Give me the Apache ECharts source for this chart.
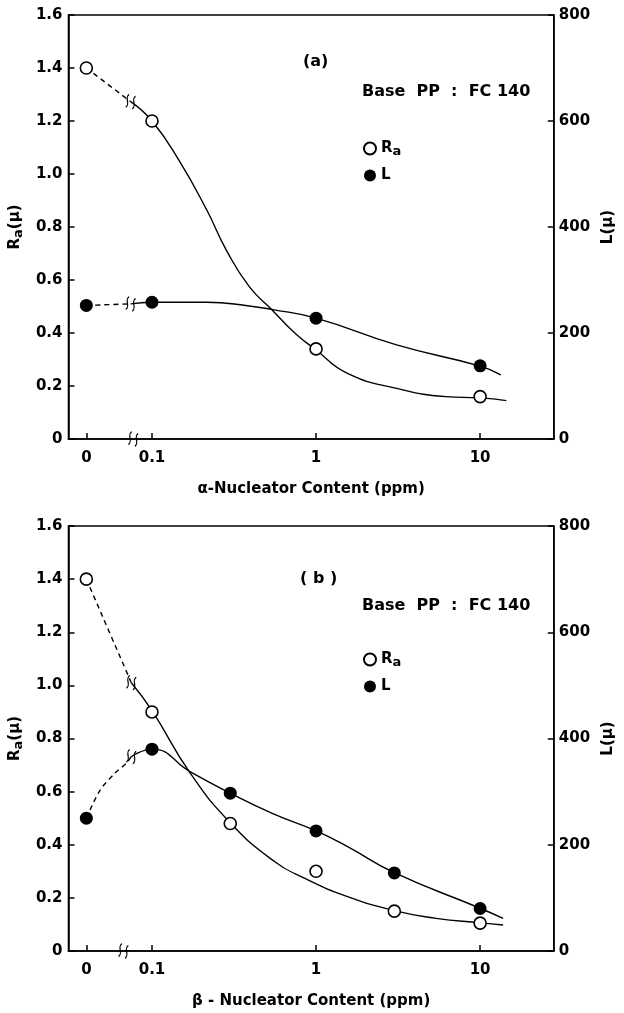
<!DOCTYPE html>
<html><head><meta charset="utf-8">
<script src="https://cdn.jsdelivr.net/npm/echarts@6/dist/echarts.min.js"></script>
<style>html,body{margin:0;padding:0;background:#fff}#c{width:624px;height:1013px}</style>
</head><body><div id="c"></div><script>
// ---------------- data ----------------
const tickContents = [0, 0.1, 1, 10];
const tickLabels = ['0', '0.1', '1', '10'];
const ZERO_POS = -1.4;            // where "0 ppm" sits on the broken log axis (decades)
const raTicks = [0, 0.2, 0.4, 0.6, 0.8, 1.0, 1.2, 1.4, 1.6];
const lTicks = [0, 200, 400, 600, 800];

// panel (a): alpha-nucleator
const contentA = [0, 0.1, 1, 10];
const raA = [1.40, 1.20, 0.34, 0.16];
const lA = [252, 258, 228, 138];
// panel (b): beta-nucleator
const contentB = [0, 0.1, 0.3, 1, 3, 10];
const raB = [1.40, 0.90, 0.48, 0.30, 0.15, 0.105];
const lB = [250, 380, 297, 226, 147, 80];

// hand-drawn curves: [position in decades (log10 ppm), value]
const raDashA = [[-1.4, 1.40], [-1.13, 1.273]];
const raCurveA = [[-1.13, 1.273], [-1, 1.20], [-0.837, 1.053], [-0.666, 0.864], [-0.547, 0.713], [-0.407, 0.575], [-0.271, 0.489], [-0.128, 0.399], [0, 0.336], [0.192, 0.248], [0.491, 0.191], [0.79, 0.160], [1, 0.155], [1.16, 0.145]];
const lDashA = [[-1.4, 252], [-1.13, 255]];
const lCurveA = [[-1.13, 255], [-1, 258], [-0.666, 258], [-0.407, 251], [-0.271, 244.5], [0, 228], [0.491, 177.5], [1, 137.5], [1.126, 121]];
const breakRaA = [-1.13, 1.273], breakLA = [-1.13, 255], breakAxisA = [-1.114, 0];

const raDashB = [[-1.4, 1.40], [-1.126, 1.01]];
const raCurveB = [[-1.126, 1.01], [-1, 0.905], [-0.766, 0.669], [-0.523, 0.483], [-0.267, 0.343], [-0.068, 0.273], [0.192, 0.205], [0.477, 0.152], [0.731, 0.123], [1, 0.106], [1.14, 0.098]];
const lDashB = [[-1.4, 250], [-1.316, 303], [-1.226, 334.5], [-1.156, 353.5], [-1.126, 366]];
const lCurveB = [[-1.126, 366], [-1, 380], [-0.766, 337], [-0.523, 297], [-0.267, 259], [0, 226], [0.192, 196.5], [0.477, 147.5], [1, 80.5], [1.14, 61.5]];
const breakRaB = [-1.126, 1.01], breakLB = [-1.126, 366], breakAxisB = [-1.174, 0];

// ---------------- build ----------------
const FONT = 'DejaVu Sans';
const pos = c => c === 0 ? ZERO_POS : Math.log10(c);
const tickPos = tickContents.map(pos);
const BLACK = '#000';
const BREAK_SYM = 'path://M3,0 C0,4 6,8 3,12 M8,0 C5,4 11,8 8,12';

const grids = [
  {left: 66, top: 15, width: 494, height: 424},
  {left: 66, top: 526, width: 494, height: 425}
];

function xAxis(gi, name) {
  return {
    gridIndex: gi, type: 'value', min: -1.509, max: 1.449,
    axisLine: {onZero: false, lineStyle: {color: BLACK, width: 1.5}},
    splitLine: {show: false},
    axisTick: {inside: true, length: 6, customValues: tickPos, lineStyle: {color: BLACK, width: 1.5}},
    axisLabel: {customValues: tickPos, margin: 12, color: BLACK, fontFamily: FONT, fontSize: 15, fontWeight: 'bold',
      formatter: v => { let k = 0; tickPos.forEach((p, i) => { if (Math.abs(p - v) < Math.abs(tickPos[k] - v)) k = i; }); return tickLabels[k]; }},
    name: name, nameLocation: 'middle', nameGap: 43,
    nameTextStyle: {color: BLACK, fontFamily: FONT, fontSize: 15, fontWeight: 'bold'}
  };
}
function yLeft(gi) {
  return {
    gridIndex: gi, type: 'value', position: 'left', min: raTicks[0], max: raTicks[raTicks.length - 1], interval: 0.2,
    axisLine: {show: true, onZero: false, lineStyle: {color: BLACK, width: 1.5}},
    splitLine: {show: false},
    axisTick: {show: true, inside: true, length: 6, lineStyle: {color: BLACK, width: 1.5}},
    axisLabel: {margin: 6, color: BLACK, fontFamily: FONT, fontSize: 15, fontWeight: 'bold',
      formatter: v => v === 0 ? '0' : v.toFixed(1)},
    name: '{r|R}{s|a}{r|(μ)}', nameLocation: 'middle', nameGap: 38, nameRotate: 90,
    nameTextStyle: {color: BLACK, fontFamily: FONT, fontSize: 15, fontWeight: 'bold',
      rich: {r: {fontFamily: FONT, fontSize: 15, fontWeight: 'bold', color: BLACK},
             s: {fontFamily: FONT, fontSize: 13, fontWeight: 'bold', color: BLACK, padding: [6, 0, 0, 0]}}}
  };
}
function yRight(gi) {
  return {
    gridIndex: gi, type: 'value', position: 'right', min: lTicks[0], max: lTicks[lTicks.length - 1], interval: 200,
    axisLine: {show: true, onZero: false, lineStyle: {color: BLACK, width: 1.5}},
    splitLine: {show: false},
    axisTick: {show: true, inside: true, length: 6, lineStyle: {color: BLACK, width: 1.5}},
    axisLabel: {margin: 5, color: BLACK, fontFamily: FONT, fontSize: 15, fontWeight: 'bold'},
    name: 'L(μ)', nameLocation: 'middle', nameGap: 46, nameRotate: 90,
    nameTextStyle: {color: BLACK, fontFamily: FONT, fontSize: 15, fontWeight: 'bold'}
  };
}
function curve(xi, yi, data, dashed) {
  return {type: 'line', xAxisIndex: xi, yAxisIndex: yi, data: data, showSymbol: false, silent: true,
    smooth: dashed ? 0.3 : 0.5,
    lineStyle: {color: BLACK, width: 1.4, type: dashed ? [5, 4] : 'solid'}, z: 2};
}
function pts(xi, yi, name, contents, values, open) {
  return {type: 'scatter', name: name, xAxisIndex: xi, yAxisIndex: yi, symbol: 'circle',
    symbolSize: open ? 12 : 13, data: contents.map((c, i) => [pos(c), values[i]]),
    itemStyle: open ? {color: '#fff', borderColor: BLACK, borderWidth: 1.6, opacity: 1} : {color: BLACK, borderColor: BLACK, borderWidth: 0, opacity: 1},
    z: 5};
}
function brk(xi, yi, p) {
  return {type: 'scatter', xAxisIndex: xi, yAxisIndex: yi, symbol: BREAK_SYM, symbolSize: [9, 13], symbolRotate: -15,
    data: [p], silent: true, itemStyle: {color: 'rgba(0,0,0,0)', borderColor: BLACK, borderWidth: 1.4, opacity: 1}, z: 4};
}
const legendText = {color: BLACK, fontFamily: FONT, fontSize: 15, fontWeight: 'bold',
  rich: {r: {fontFamily: FONT, fontSize: 15, fontWeight: 'bold', color: BLACK},
         s: {fontFamily: FONT, fontSize: 13, fontWeight: 'bold', color: BLACK, padding: [6, 0, 0, 0]}}};
function legend(top) {
  return {orient: 'vertical', left: 358, top: top, itemWidth: 12, itemHeight: 12, itemGap: 10,
    data: [{name: 'Ra'}, {name: 'L'}], selectedMode: false,
    formatter: n => n === 'Ra' ? '{r|R}{s|a}' : '{r|L}', textStyle: legendText};
}
function txt(x, y, s) {
  return {type: 'text', left: x, top: y, style: {text: s, fill: BLACK, font: 'bold 16px "DejaVu Sans"'}};
}

const option = {
  backgroundColor: '#fff',
  animation: false,
  grid: grids.map(g => Object.assign({show: true, borderColor: BLACK, borderWidth: 1.5, backgroundColor: 'transparent'}, g)),
  xAxis: [xAxis(0, 'α-Nucleator Content (ppm)'), xAxis(1, 'β - Nucleator Content (ppm)')],
  yAxis: [yLeft(0), yRight(0), yLeft(1), yRight(1)],
  legend: [legend(136), legend(647)],
  graphic: [
    txt(303, 54, '(a)'), txt(362, 84, 'Base  PP  :  FC 140'),
    txt(300, 571, '( b )'), txt(362, 598, 'Base  PP  :  FC 140')
  ],
  series: [
    curve(0, 0, raDashA, true), curve(0, 0, raCurveA, false),
    curve(0, 1, lDashA, true), curve(0, 1, lCurveA, false),
    brk(0, 0, breakRaA), brk(0, 1, breakLA), brk(0, 0, breakAxisA),
    pts(0, 0, 'Ra', contentA, raA, true), pts(0, 1, 'L', contentA, lA, false),
    curve(1, 2, raDashB, true), curve(1, 2, raCurveB, false),
    curve(1, 3, lDashB, true), curve(1, 3, lCurveB, false),
    brk(1, 2, breakRaB), brk(1, 3, breakLB), brk(1, 2, breakAxisB),
    pts(1, 2, 'Ra', contentB, raB, true), pts(1, 3, 'L', contentB, lB, false)
  ]
};
const chart = echarts.init(document.getElementById('c'), null, {renderer: 'canvas'});
chart.setOption(option);
</script></body></html>
